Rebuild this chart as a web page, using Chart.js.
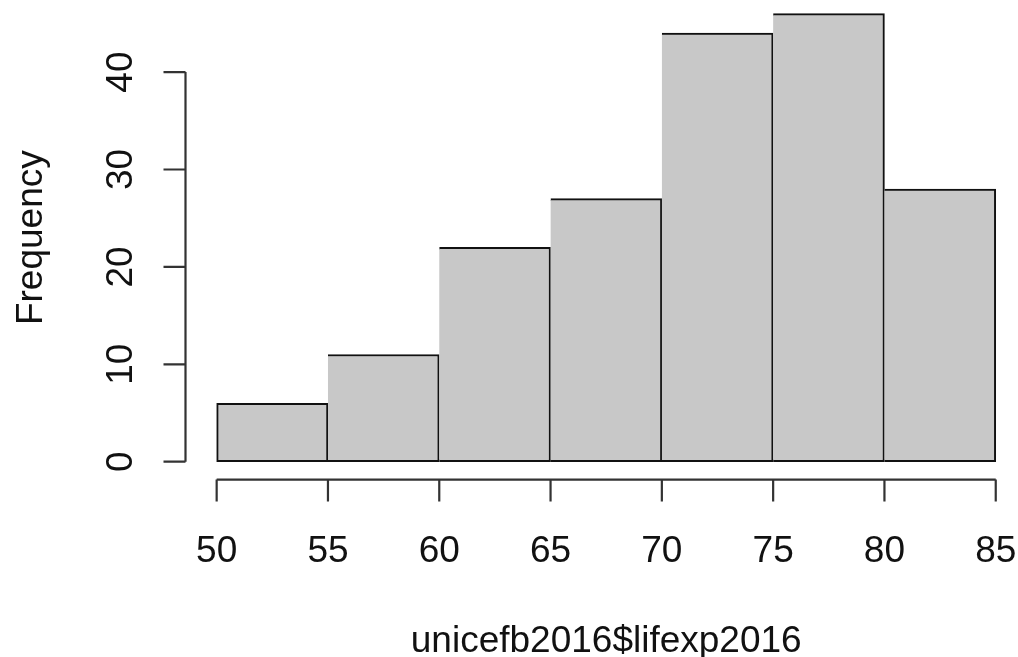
<!DOCTYPE html>
<html><head><meta charset="utf-8">
<script src="https://cdn.jsdelivr.net/npm/chart.js@4"></script>
<style>html,body{margin:0;padding:0;background:#fff}#wrap{width:1018px;height:657px;position:relative}</style>
</head><body><div id="wrap"><canvas id="c"></canvas></div>
<script>
const breaks = [50, 55, 60, 65, 70, 75, 80, 85];
const counts = [6, 11, 22, 27, 44, 46, 28];
const xTicks = [50, 55, 60, 65, 70, 75, 80, 85];
const yTicks = [0, 10, 20, 30, 40];
const xTitle = 'unicefb2016$lifexp2016';
const yTitle = 'Frequency';

const points = counts.map((c, i) => ({ x: (breaks[i] + breaks[i + 1]) / 2, y: c }));
const FONT = '37px "Liberation Sans", Arial, Helvetica, sans-serif';

const axesPlugin = {
  id: 'rAxes',
  afterDraw(chart) {
    const ctx = chart.ctx, xs = chart.scales.x, ys = chart.scales.y, ca = chart.chartArea;
    ctx.save();
    ctx.strokeStyle = '#333'; ctx.lineWidth = 2.2; ctx.lineCap = 'butt';
    const xb = ca.bottom;
    ctx.beginPath();
    ctx.moveTo(xs.getPixelForValue(xTicks[0]), xb);
    ctx.lineTo(xs.getPixelForValue(xTicks[xTicks.length - 1]), xb);
    xTicks.forEach(v => { const px = xs.getPixelForValue(v); ctx.moveTo(px, xb); ctx.lineTo(px, xb + 22); });
    ctx.stroke();
    const yl = ca.left;
    ctx.beginPath();
    ctx.moveTo(yl, ys.getPixelForValue(yTicks[0]));
    ctx.lineTo(yl, ys.getPixelForValue(yTicks[yTicks.length - 1]));
    yTicks.forEach(v => { const py = ys.getPixelForValue(v); ctx.moveTo(yl, py); ctx.lineTo(yl - 22, py); });
    ctx.stroke();

    ctx.fillStyle = '#111'; ctx.font = FONT; ctx.textAlign = 'center'; ctx.textBaseline = 'alphabetic';
    xTicks.forEach(v => ctx.fillText(String(v), xs.getPixelForValue(v), xb + 82));
    yTicks.forEach(v => {
      ctx.save(); ctx.translate(yl - 53.5, ys.getPixelForValue(v)); ctx.rotate(-Math.PI / 2);
      ctx.fillText(String(v), 0, 0); ctx.restore();
    });
    const midX = xs.getPixelForValue((breaks[0] + breaks[breaks.length - 1]) / 2);
    ctx.fillText(xTitle, midX, xb + 172);
    const midY = ys.getPixelForValue(Math.max(...counts) / 2);
    ctx.save(); ctx.translate(yl - 143.8, midY); ctx.rotate(-Math.PI / 2);
    ctx.fillText(yTitle, 0, 0); ctx.restore();
    ctx.restore();
  }
};

new Chart(document.getElementById('c'), {
  type: 'bar',
  data: {
    datasets: [{
      data: points,
      backgroundColor: '#c8c8c8',
      borderColor: '#111',
      borderWidth: 2,
      borderSkipped: ctx => ctx.dataIndex === 0 ? false : 'left',
      barPercentage: 1,
      categoryPercentage: 1
    }]
  },
  options: {
    responsive: true,
    maintainAspectRatio: false,
    animation: false,
    layout: { padding: { left: 185.5, right: 0, top: 0, bottom: 177.4 } },
    plugins: { legend: { display: false }, tooltip: { enabled: false }, title: { display: false } },
    scales: {
      x: {
        type: 'linear', display: false, min: 48.6, max: 86.0, offset: false,
        afterBuildTicks: s => { s.ticks = xTicks.map(v => ({ value: v })); }
      },
      y: {
        display: false, min: -1.84, max: 47.4,
        afterBuildTicks: s => { s.ticks = yTicks.map(v => ({ value: v })); }
      }
    }
  },
  plugins: [axesPlugin]
});
</script>
</body></html>
